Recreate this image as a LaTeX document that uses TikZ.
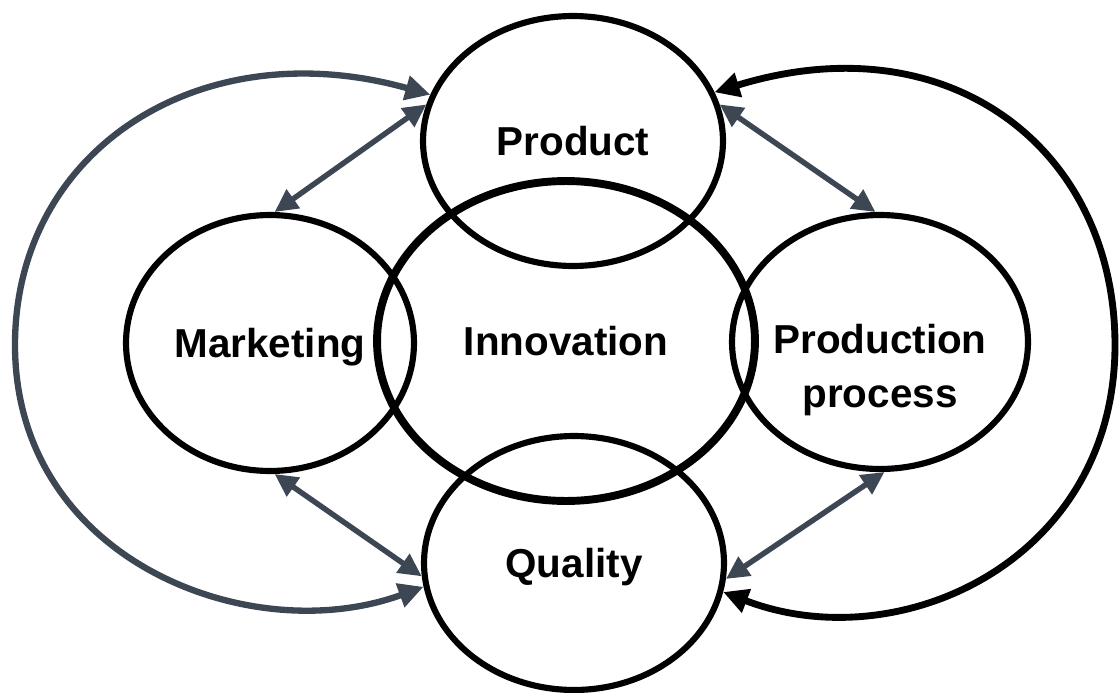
\documentclass[tikz,border=0pt]{standalone}
\usepackage{fontspec}
\setmainfont{Liberation Sans}
\usetikzlibrary{shapes.geometric,arrows.meta}
\definecolor{slate}{HTML}{3D4753}
\tikzset{
  oval/.style={ellipse,draw=black,line width=3.5pt,inner sep=0pt,text depth=0pt,font=\bfseries\fontsize{23}{28}\selectfont},
  lbl/.style={font=\bfseries\fontsize{23}{31}\selectfont,align=center,inner sep=0pt},
  link/.style={draw=slate,line width=3.1pt,{Triangle[length=0.46cm,width=0.44cm]}-{Triangle[length=0.46cm,width=0.44cm]}},
  loopg/.style={draw=slate,line width=3.6pt,{Triangle[length=0.5cm,width=0.48cm]}-{Triangle[length=0.5cm,width=0.48cm]}},
  loopb/.style={draw=black,line width=3.9pt,{Triangle[length=0.5cm,width=0.48cm]}-{Triangle[length=0.5cm,width=0.48cm]}}
}
\begin{document}
\begin{tikzpicture}[x=0.02cm,y=-0.02cm]
\useasboundingbox (0,0) rectangle (1119,693);
\node[oval,minimum width=6.0cm,minimum height=5.0cm] (prod) at (573,141) {Product};
\node[oval,minimum width=5.76cm,minimum height=5.12cm] (mkt) at (270,343) {Marketing};
\node[oval,line width=4.5pt,minimum width=7.56cm,minimum height=6.4cm] (inno) at (566,341) {Innovation};
\node[oval,minimum width=5.92cm,minimum height=5.08cm] (pp) at (880,342) {};
\node[lbl] (pptext) at (880,370) {Production\\process};
\node[oval,minimum width=6.0cm,minimum height=5.08cm] (qual) at (574,563) {Quality};
\coordinate (lw) at (15,345);
\coordinate (re) at (1115,345);
% double arrows
\draw[link] (mkt.88) -- (prod.166);
\draw[link] (prod.14) -- (pp.92);
\draw[link] (mkt.-88) -- (qual.185);
\draw[link] (pp.-88) -- (qual.-6);
% loops
\draw[loopg] (prod.162) .. controls (200,30) and (15,150) .. (lw) .. controls (15,560) and (250,650) .. (qual.189);
\draw[loopb] (prod.19) .. controls (950,20) and (1115,150) .. (re) .. controls (1115,560) and (900,660) .. (qual.-11);
\end{tikzpicture}
\end{document}
